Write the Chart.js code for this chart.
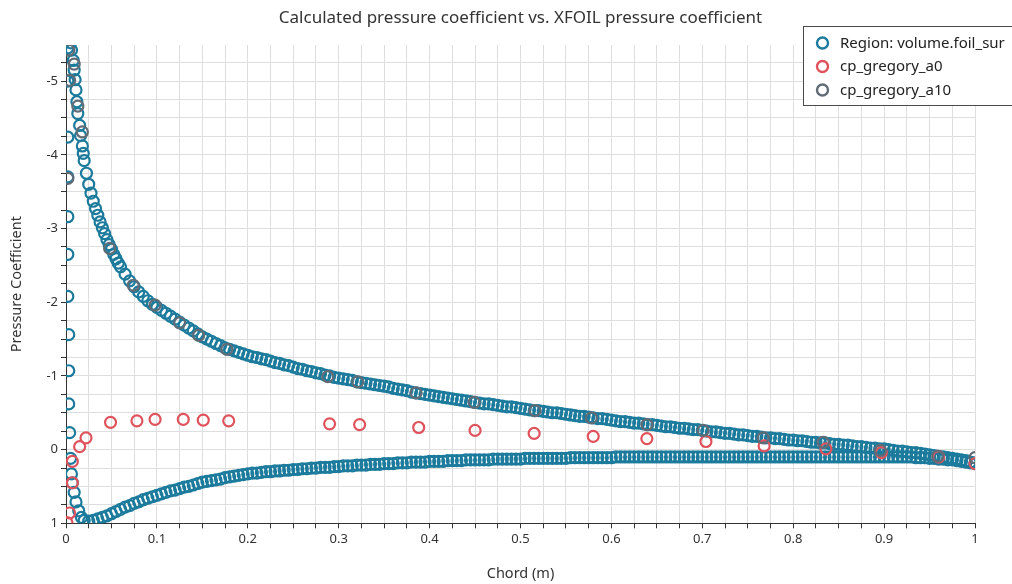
<!DOCTYPE html>
<html>
<head>
<meta charset="utf-8">
<title>Calculated pressure coefficient vs. XFOIL pressure coefficient</title>
<script src="https://cdn.jsdelivr.net/npm/chart.js@4.4.1/dist/chart.umd.min.js"></script>
<style>
  html, body { margin: 0; padding: 0; background: #fff; }
  #wrap { width: 1012px; height: 584px; }
</style>
</head>
<body>
<div id="wrap"><canvas id="cpChart" width="1012" height="584"></canvas></div>
<script>
// Chord stations shared by the upper and lower surface of the foil (x >= 0.02)
const chordX = [
  0.020, 0.025, 0.030, 0.035, 0.040, 0.045, 0.050, 0.055, 0.060, 0.065,
  0.070, 0.075, 0.080, 0.085, 0.090, 0.095, 0.100, 0.105, 0.110, 0.115,
  0.120, 0.125, 0.130, 0.135, 0.140, 0.145, 0.150, 0.155, 0.160, 0.165,
  0.170, 0.175, 0.180, 0.185, 0.190, 0.195, 0.200, 0.205, 0.210, 0.215,
  0.220, 0.225, 0.230, 0.235, 0.240, 0.245, 0.250, 0.255, 0.260, 0.265,
  0.270, 0.275, 0.280, 0.285, 0.290, 0.295, 0.300, 0.305, 0.310, 0.315,
  0.320, 0.325, 0.330, 0.335, 0.340, 0.345, 0.350, 0.355, 0.360, 0.365,
  0.370, 0.375, 0.380, 0.385, 0.390, 0.395, 0.400, 0.405, 0.410, 0.415,
  0.420, 0.425, 0.430, 0.435, 0.440, 0.445, 0.450, 0.455, 0.460, 0.465,
  0.470, 0.475, 0.480, 0.485, 0.490, 0.495, 0.500, 0.505, 0.510, 0.515,
  0.520, 0.525, 0.530, 0.535, 0.540, 0.545, 0.550, 0.555, 0.560, 0.565,
  0.570, 0.575, 0.580, 0.585, 0.590, 0.595, 0.600, 0.605, 0.610, 0.615,
  0.620, 0.625, 0.630, 0.635, 0.640, 0.645, 0.650, 0.655, 0.660, 0.665,
  0.670, 0.675, 0.680, 0.685, 0.690, 0.695, 0.700, 0.705, 0.710, 0.715,
  0.720, 0.725, 0.730, 0.735, 0.740, 0.745, 0.750, 0.755, 0.760, 0.765,
  0.770, 0.775, 0.780, 0.785, 0.790, 0.795, 0.800, 0.805, 0.810, 0.815,
  0.820, 0.825, 0.830, 0.835, 0.840, 0.845, 0.850, 0.855, 0.860, 0.865,
  0.870, 0.875, 0.880, 0.885, 0.890, 0.895, 0.900, 0.905, 0.910, 0.915,
  0.920, 0.925, 0.930, 0.935, 0.940, 0.945, 0.950, 0.955, 0.960, 0.965,
  0.970, 0.975, 0.980, 0.985, 0.990, 0.995, 1.000
];

const upperCp = [
  -3.92, -3.60, -3.37, -3.18, -3.01, -2.85, -2.72, -2.59, -2.48, -2.38,
  -2.29, -2.21, -2.14, -2.08, -2.02, -1.97, -1.93, -1.89, -1.85, -1.81,
  -1.77, -1.73, -1.69, -1.65, -1.61, -1.57, -1.53, -1.50, -1.47, -1.44,
  -1.41, -1.38, -1.36, -1.34, -1.32, -1.30, -1.28, -1.26, -1.25, -1.23,
  -1.22, -1.20, -1.18, -1.17, -1.15, -1.14, -1.12, -1.10, -1.09, -1.07,
  -1.06, -1.04, -1.03, -1.01, -1.00, -0.98, -0.97, -0.96, -0.95, -0.94,
  -0.92, -0.91, -0.90, -0.89, -0.88, -0.87, -0.86, -0.85, -0.83, -0.82,
  -0.81, -0.80, -0.78, -0.77, -0.76, -0.75, -0.74, -0.73, -0.72, -0.71,
  -0.70, -0.69, -0.68, -0.67, -0.66, -0.65, -0.64, -0.63, -0.62, -0.62,
  -0.61, -0.60, -0.59, -0.58, -0.58, -0.57, -0.56, -0.55, -0.54, -0.53,
  -0.53, -0.52, -0.51, -0.50, -0.50, -0.49, -0.48, -0.47, -0.46, -0.45,
  -0.45, -0.44, -0.43, -0.42, -0.42, -0.41, -0.40, -0.39, -0.38, -0.38,
  -0.37, -0.36, -0.36, -0.35, -0.34, -0.34, -0.33, -0.32, -0.31, -0.31,
  -0.30, -0.29, -0.29, -0.28, -0.27, -0.27, -0.26, -0.25, -0.24, -0.24,
  -0.23, -0.22, -0.22, -0.21, -0.20, -0.20, -0.19, -0.18, -0.18, -0.17,
  -0.16, -0.16, -0.15, -0.15, -0.14, -0.13, -0.13, -0.12, -0.12, -0.11,
  -0.10, -0.10, -0.09, -0.09, -0.08, -0.07, -0.07, -0.06, -0.06, -0.05,
  -0.04, -0.04, -0.03, -0.02, -0.02, -0.01, -0.01, 0.00, 0.01, 0.02,
  0.02, 0.03, 0.04, 0.04, 0.05, 0.06, 0.07, 0.08, 0.09, 0.10,
  0.11, 0.12, 0.13, 0.14, 0.15, 0.17, 0.18
];

const lowerCp = [
  0.96, 0.97, 0.96, 0.94, 0.92, 0.90, 0.87, 0.84, 0.81, 0.78,
  0.76, 0.73, 0.71, 0.68, 0.66, 0.64, 0.62, 0.60, 0.58, 0.56,
  0.55, 0.53, 0.51, 0.50, 0.48, 0.46, 0.44, 0.43, 0.42, 0.41,
  0.40, 0.38, 0.37, 0.36, 0.35, 0.34, 0.33, 0.32, 0.32, 0.31,
  0.30, 0.30, 0.29, 0.29, 0.28, 0.28, 0.27, 0.27, 0.26, 0.26,
  0.25, 0.25, 0.24, 0.24, 0.24, 0.23, 0.23, 0.22, 0.22, 0.22,
  0.21, 0.21, 0.21, 0.20, 0.20, 0.20, 0.19, 0.19, 0.19, 0.18,
  0.18, 0.18, 0.17, 0.17, 0.17, 0.17, 0.16, 0.16, 0.16, 0.16,
  0.15, 0.15, 0.15, 0.15, 0.14, 0.14, 0.14, 0.14, 0.14, 0.14,
  0.13, 0.13, 0.13, 0.13, 0.13, 0.13, 0.13, 0.12, 0.12, 0.12,
  0.12, 0.12, 0.12, 0.12, 0.12, 0.12, 0.12, 0.11, 0.11, 0.11,
  0.11, 0.11, 0.11, 0.11, 0.11, 0.11, 0.11, 0.10, 0.10, 0.10,
  0.10, 0.10, 0.10, 0.10, 0.10, 0.10, 0.10, 0.10, 0.10, 0.10,
  0.10, 0.10, 0.10, 0.10, 0.10, 0.10, 0.10, 0.10, 0.10, 0.10,
  0.10, 0.10, 0.10, 0.10, 0.10, 0.10, 0.10, 0.10, 0.10, 0.10,
  0.10, 0.10, 0.10, 0.10, 0.10, 0.10, 0.10, 0.10, 0.10, 0.10,
  0.10, 0.10, 0.10, 0.10, 0.10, 0.10, 0.10, 0.10, 0.10, 0.10,
  0.10, 0.10, 0.10, 0.10, 0.10, 0.10, 0.10, 0.10, 0.10, 0.10,
  0.10, 0.10, 0.10, 0.11, 0.11, 0.11, 0.12, 0.12, 0.13, 0.13,
  0.14, 0.14, 0.15, 0.16, 0.17, 0.18, 0.19
];

// suction peak just behind the leading edge, plus in-between stations up to x = 0.06
const peakX  = [0.005, 0.006, 0.008, 0.009, 0.010, 0.011, 0.012, 0.013, 0.015, 0.016, 0.018, 0.019,
                0.0225, 0.0275, 0.0325, 0.0375, 0.0425, 0.0475, 0.0525, 0.0575];
const peakCp = [-5.52, -5.42, -5.28, -5.15, -5.02, -4.88, -4.72, -4.56, -4.40, -4.26, -4.12, -4.02,
                -3.75, -3.48, -3.27, -3.09, -2.93, -2.78, -2.65, -2.53];

// points wrapping round the nose
const noseX  = [0.002, 0.002, 0.002, 0.002, 0.002, 0.002, 0.002, 0.003, 0.003, 0.003, 0.004,
                0.005, 0.006, 0.007, 0.009, 0.011, 0.014, 0.017];
const noseCp = [-5.45, -5.00, -4.24, -3.70, -3.16, -2.65, -2.08, -1.56, -1.07, -0.62, -0.23,
                0.12, 0.33, 0.45, 0.58, 0.71, 0.83, 0.92];

// cp_gregory_a0
const a0X  = [0.001, 0.004, 0.007, 0.007, 0.015, 0.022, 0.049, 0.078, 0.098, 0.129, 0.151, 0.179,
              0.290, 0.323, 0.388, 0.450, 0.515, 0.580, 0.639, 0.704, 0.768, 0.836, 0.897, 0.960, 1.000];
const a0Cp = [0.99, 0.86, 0.45, 0.16, -0.04, -0.16, -0.37, -0.39, -0.41, -0.41, -0.40, -0.39,
              -0.35, -0.34, -0.30, -0.26, -0.22, -0.18, -0.15, -0.11, -0.05, -0.01, 0.04, 0.10, 0.19];

// cp_gregory_a10
const a10X  = [0.003, 0.004, 0.009, 0.013, 0.018, 0.002, 0.048, 0.074, 0.098, 0.125, 0.146, 0.177,
               0.288, 0.321, 0.385, 0.449, 0.516, 0.578, 0.639, 0.701, 0.767, 0.833, 0.896, 0.959, 1.000];
const a10Cp = [-5.42, -5.01, -5.23, -4.66, -4.31, -3.68, -2.73, -2.23, -1.96, -1.72, -1.55, -1.36,
               -0.99, -0.92, -0.77, -0.64, -0.53, -0.43, -0.34, -0.26, -0.16, -0.10, 0.01, 0.09, 0.11];

const seriesNames = ['Region: volume.foil_sur', 'cp_gregory_a0', 'cp_gregory_a10'];
const seriesColors = ['#1c7b9c', '#e0535d', '#626c77'];

const FONT = "'Noto Sans', 'DejaVu Sans', sans-serif";

function toPoints(xs, ys) {
    return xs.map((x, i) => ({ x: x, y: ys[i] }));
}

const foilPoints = [].concat(
    toPoints(noseX, noseCp),
    toPoints(peakX, peakCp),
    toPoints(chordX, upperCp),
    toPoints(chordX, lowerCp)
);

function ringSet(idx, data, order) {
    return {
        label: seriesNames[idx],
        data: data,
        order: order,
        clip: 0,
        showLine: false,
        pointStyle: 'circle',
        pointRadius: 5.5,
        pointHoverRadius: 5.5,
        pointBorderWidth: 2.2,
        pointBorderColor: seriesColors[idx],
        pointBackgroundColor: 'rgba(0,0,0,0)',
        borderColor: seriesColors[idx],
        backgroundColor: 'rgba(0,0,0,0)'
    };
}

// legend drawn as a boxed overlay in the top right corner
const boxLegend = {
    id: 'boxLegend',
    afterDraw(chart) {
        const ctx = chart.ctx;
        ctx.save();
        ctx.fillStyle = '#ffffff';
        ctx.fillRect(803.5, 26.5, 215, 79);
        ctx.strokeStyle = '#4a4a4a';
        ctx.lineWidth = 1;
        ctx.strokeRect(803.5, 26.5, 215, 79);
        ctx.font = '15px ' + FONT;
        ctx.textBaseline = 'middle';
        seriesNames.forEach((name, i) => {
            const y = 43 + i * 23.5;
            ctx.beginPath();
            ctx.arc(822.5, y, 5.5, 0, Math.PI * 2);
            ctx.strokeStyle = seriesColors[i];
            ctx.lineWidth = 2.4;
            ctx.stroke();
            ctx.fillStyle = '#222';
            ctx.fillText(name, 840, y + 0.5);
        });
        ctx.restore();
    }
};

function tenthLabel(v) {
    const t = Math.round(v * 10);
    if (Math.abs(v * 10 - t) > 1e-6) return '';
    return String(t / 10);
}

function unitLabel(v) {
    const t = Math.round(v);
    if (Math.abs(v - t) > 1e-6) return '';
    return String(t);
}

const ctx = document.getElementById('cpChart').getContext('2d');
const cpChart = new Chart(ctx, {
    type: 'scatter',
    data: {
        datasets: [
            ringSet(0, foilPoints, 3),
            ringSet(1, toPoints(a0X, a0Cp), 2),
            ringSet(2, toPoints(a10X, a10Cp), 1)
        ]
    },
    options: {
        responsive: false,
        devicePixelRatio: 1,
        animation: false,
        events: [],
        layout: { padding: { left: 0, right: 37, top: 0, bottom: 0 } },
        plugins: {
            legend: { display: false },
            tooltip: { enabled: false },
            title: {
                display: true,
                fullSize: false,
                text: 'Calculated pressure coefficient vs. XFOIL pressure coefficient',
                color: '#333',
                font: { family: FONT, size: 17, weight: 'normal' },
                padding: { top: 8, bottom: 16.6 }
            }
        },
        scales: {
            x: {
                type: 'linear',
                min: 0,
                max: 1,
                afterFit(scale) { scale.height = 60.7; },
                ticks: {
                    stepSize: 0.025,
                    autoSkip: false,
                    maxRotation: 0,
                    padding: 3,
                    color: '#333',
                    font: { family: FONT, size: 13 },
                    callback: tenthLabel
                },
                grid: { color: '#dedede', lineWidth: 1, tickColor: '#333', tickLength: 5 },
                border: { display: true, color: '#333', width: 1 },
                title: {
                    display: true,
                    text: 'Chord (m)',
                    color: '#333',
                    font: { family: FONT, size: 14.5 },
                    padding: { top: 1.3, bottom: 1.3 }
                }
            },
            y: {
                type: 'linear',
                reverse: true,
                min: -5.49,
                max: 1,
                afterFit(scale) { scale.width = 66; },
                ticks: {
                    stepSize: 0.25,
                    includeBounds: false,
                    autoSkip: false,
                    padding: 3,
                    color: '#333',
                    font: { family: FONT, size: 13 },
                    callback: unitLabel
                },
                grid: { color: '#dedede', lineWidth: 1, tickColor: '#333', tickLength: 5 },
                border: { display: true, color: '#333', width: 1 },
                title: {
                    display: true,
                    text: 'Pressure Coefficient',
                    color: '#333',
                    font: { family: FONT, size: 14.5 },
                    padding: { top: 8.3, bottom: 8.3 }
                }
            }
        }
    },
    plugins: [boxLegend]
});
</script>
</body>
</html>
